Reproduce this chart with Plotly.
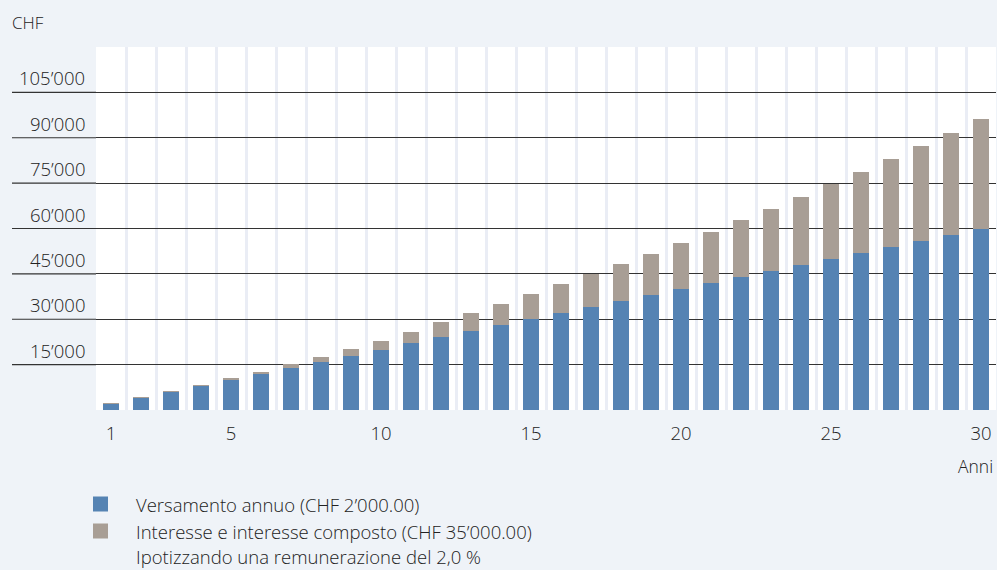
import plotly.graph_objects as go

years = list(range(1, 31))
versamento = [2000, 4000, 6000, 8000, 10000, 12000, 14000, 16000, 18000, 20000,
              22000, 24000, 26000, 28000, 30000, 32000, 34000, 36000, 38000, 40000,
              42000, 44000, 46000, 48000, 50000, 52000, 54000, 56000, 58000, 60000]
interesse = [20, 60, 120, 200, 350, 650, 1300, 1650, 2300, 2950,
             3950, 4950, 5950, 6900, 8250, 9550, 10900, 12200, 13500, 15150,
             16800, 18800, 20450, 22400, 24700, 26700, 29000, 31300, 33600, 36250]
y_tickvals = [15000, 30000, 45000, 60000, 75000, 90000, 105000]
y_ticktext = ["15’000", "30’000", "45’000", "60’000", "75’000", "90’000", "105’000"]
x_tickvals = [1, 5, 10, 15, 20, 25, 30]
legend_labels = ["Versamento annuo (CHF 2’000.00)",
                 "Interesse e interesse composto (CHF 35’000.00)"]
note = "Ipotizzando una remunerazione del 2,0 %"

BLUE = "#5583b3"
GRAY = "#a89e95"
BG = "#eff3f8"
TXT = "#222222"
FONT = "Open Sans"
WT = 300

fig = go.Figure()
fig.add_trace(go.Bar(x=years, y=versamento, marker=dict(color=BLUE, line_width=0),
                     width=0.54, name=legend_labels[0], showlegend=False))
fig.add_trace(go.Bar(x=years, y=interesse, marker=dict(color=GRAY, line_width=0),
                     width=0.54, name=legend_labels[1], showlegend=False))

L, R, T, B = 96, 1, 47, 160
W, H = 997, 570
pw = W - L - R
ph = H - T - B

def py(ypix):
    return (H - B - ypix) / ph

def px(xpix):
    return (xpix - L) / pw

shapes = []
for v in y_tickvals:
    shapes.append(dict(type="line", xref="paper", yref="y",
                       x0=px(12), x1=0, y0=v, y1=v,
                       line=dict(color="#333333", width=1.2)))
annotations = []
for v, t in zip(y_tickvals, y_ticktext):
    annotations.append(dict(xref="paper", yref="y", x=px(87), y=v,
                            text=t, showarrow=False, xanchor="right", yanchor="bottom",
                            yshift=0, font=dict(family=FONT, size=18.5, color=TXT, weight=WT)))

annotations.append(dict(xref="paper", yref="paper", x=px(10), y=py(22),
                        text="CHF", showarrow=False, xanchor="left", yanchor="middle",
                        font=dict(family=FONT, size=17, color=TXT, weight=WT)))
annotations.append(dict(xref="paper", yref="paper", x=px(995), y=py(466),
                        text="Anni", showarrow=False, xanchor="right", yanchor="middle",
                        font=dict(family=FONT, size=17.5, color=TXT, weight=WT)))

legend_rows = [(504, BLUE, legend_labels[0]), (531, GRAY, legend_labels[1]), (556, None, note)]
for yc, col, txt in legend_rows:
    if col:
        shapes.append(dict(type="rect", xref="paper", yref="paper",
                           x0=px(93), x1=px(108), y0=py(yc - 7.5), y1=py(yc + 7.5),
                           fillcolor=col, line_width=0))
    annotations.append(dict(xref="paper", yref="paper", x=px(134), y=py(yc),
                            text=txt, showarrow=False, xanchor="left", yanchor="middle",
                            font=dict(family=FONT, size=18.5, color=TXT, weight=WT)))

fig.update_layout(
    width=W, height=H,
    margin=dict(l=L, r=R, t=T, b=B, pad=0),
    paper_bgcolor=BG, plot_bgcolor="white",
    barmode="stack", bargap=0,
    showlegend=False,
    font=dict(family=FONT, color=TXT, weight=WT),
    shapes=shapes, annotations=annotations,
    xaxis=dict(range=[0.5, 30.5], tickvals=x_tickvals, ticks="", showgrid=False,
               zeroline=False, showline=False, tickfont=dict(size=18.5, color=TXT, weight=WT),
               ticklabelstandoff=10,
               minor=dict(tick0=0.5, dtick=1, showgrid=True, gridcolor="#eaedf5", gridwidth=2.5, ticks="")),
    yaxis=dict(range=[0, 120000], tickvals=y_tickvals, showticklabels=False,
               showgrid=True, gridcolor="#333333", gridwidth=1.2, zeroline=False, showline=False),
)
fig.write_html("out.html", config={"displayModeBar": False},
               post_script="document.body.style.margin='0';document.body.style.overflow='hidden';")
